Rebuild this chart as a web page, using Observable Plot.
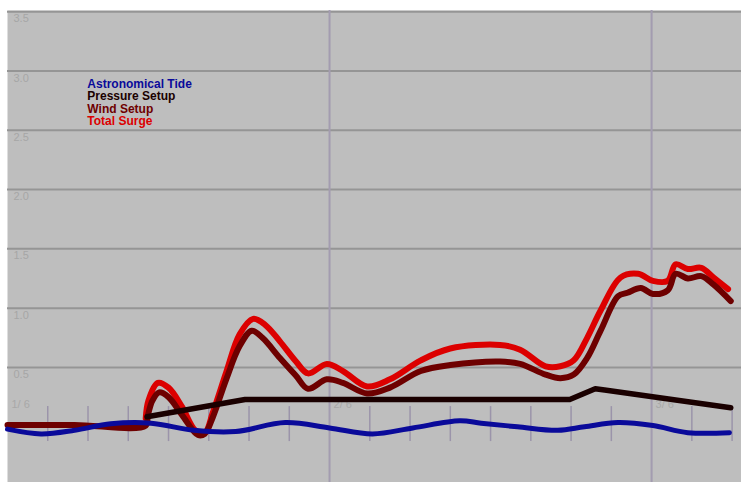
<!DOCTYPE html>
<html>
<head>
<meta charset="utf-8">
<script src="https://cdn.jsdelivr.net/npm/d3@7"></script>
<script src="https://cdn.jsdelivr.net/npm/@observablehq/plot@0.6"></script>
<style>
  html, body { margin: 0; padding: 0; background: #ffffff; }
  #chart svg { display: block; }
</style>
</head>
<body>
<div id="chart"></div>
<script>
// Hours since 1/6 00:00 and water level values (ft)
const tideHours   = [0, 2.5, 5, 7.7, 10.7, 13.9, 17, 20.7, 24, 27.2, 30.2, 33.7, 35.3, 38, 41, 43, 45.5, 48.1, 50.7, 53.8];
const tideValues  = [-0.02, -0.06, -0.03, 0.025, 0.03, -0.03, -0.04, 0.035, -0.01, -0.06, -0.01, 0.05, 0.03, 0.0, -0.03, 0.0, 0.035, 0.01, -0.05, -0.05];

const pressureHours  = [10.4, 17.7, 41.9, 43.8, 44.5, 53.9];
const pressureValues = [0.085, 0.23, 0.23, 0.32, 0.31, 0.16];

const windHours  = [0, 5, 10.3, 10.45, 10.8, 11.3, 12.0, 13.0, 14.2, 14.7, 15.3, 16.3, 17.3, 18.2, 19.0, 20.3, 21.5, 22.4, 23.8, 25.0, 26.8, 28.5, 30.8, 33.0, 36.7, 38.2, 40.1, 41.2, 42.2, 43.2, 44.2, 45.5, 46.2, 47.2, 48.1, 49.2, 49.8, 50.7, 51.7, 52.6, 53.9];
const windValues = [0.015, 0.015, 0.01, 0.09, 0.22, 0.29, 0.25, 0.10, -0.07, -0.06, 0.08, 0.40, 0.68, 0.81, 0.75, 0.58, 0.43, 0.32, 0.40, 0.37, 0.28, 0.33, 0.47, 0.52, 0.55, 0.53, 0.44, 0.41, 0.44, 0.58, 0.81, 1.10, 1.13, 1.17, 1.12, 1.15, 1.29, 1.25, 1.27, 1.20, 1.06];

const totalHours  = [10.3, 10.5, 11.2, 12.0, 13.0, 14.0, 14.7, 15.3, 16.3, 17.3, 18.3, 19.2, 20.3, 21.5, 22.4, 23.8, 25.0, 26.8, 28.5, 30.8, 33.0, 36.7, 38.2, 40.1, 41.2, 42.2, 43.2, 44.2, 45.7, 47.0, 48.1, 49.2, 49.8, 50.7, 51.7, 52.6, 53.7];
const totalValues = [0.07, 0.22, 0.37, 0.33, 0.17, -0.03, -0.05, 0.12, 0.46, 0.78, 0.91, 0.86, 0.72, 0.55, 0.45, 0.53, 0.47, 0.34, 0.40, 0.56, 0.66, 0.69, 0.65, 0.51, 0.51, 0.56, 0.75, 0.98, 1.26, 1.29, 1.23, 1.23, 1.37, 1.33, 1.34, 1.26, 1.16];

const seriesNames  = ["Astronomical Tide", "Pressure Setup", "Wind Setup", "Total Surge"];
const seriesColors = ["#0a0a9a", "#1a0000", "#6e0000", "#dc0000"];

const yTicks = [0.5, 1.0, 1.5, 2.0, 2.5, 3.0, 3.5];
const dayHours = [0, 24, 48];
const dayLabels = ["1/ 6", "2/ 6", "3/ 6"];
const tickHours = [3, 6, 9, 12, 15, 18, 21, 27, 30, 33, 36, 39, 42, 45, 51, 54];

const zip = (xs, ys) => xs.map((h, i) => ({h, v: ys[i]}));
const tide = zip(tideHours, tideValues);
const pressure = zip(pressureHours, pressureValues);
const wind = zip(windHours, windValues);
const total = zip(totalHours, totalValues);

const font = "'Liberation Sans', Arial, sans-serif";

const chart = Plot.plot({
  width: 741,
  height: 482,
  marginTop: 10,
  marginLeft: 7,
  marginRight: 0,
  marginBottom: 0,
  style: {fontFamily: font, background: "#ffffff"},
  x: {domain: [0, 54.7], axis: null},
  y: {domain: [-0.47, 3.51], axis: null},
  marks: [
    Plot.frame({fill: "#bebebe", stroke: null}),
    Plot.ruleY(yTicks, {stroke: "#959595", strokeWidth: 2}),
    Plot.ruleX(dayHours.slice(1), {stroke: "#a39cb0", strokeWidth: 2}),
    Plot.ruleX(tickHours, {y1: -0.125, y2: 0.17, stroke: "#9b94aa", strokeWidth: 1.5}),
    Plot.text(yTicks, {x: 0, y: d => d, text: d => d.toFixed(1), dx: 6, dy: 7, textAnchor: "start", fill: "#a6a6a6", fontSize: 11}),
    Plot.text(dayLabels, {x: (d, i) => dayHours[i], y: 0.185, text: d => d, dx: 4, textAnchor: "start", fill: "#a8a8a8", fontSize: 11}),
    Plot.line(total, {x: "h", y: "v", stroke: seriesColors[3], strokeWidth: 6, curve: "catmull-rom"}),
    Plot.line(wind, {x: "h", y: "v", stroke: seriesColors[2], strokeWidth: 6, curve: "catmull-rom"}),
    Plot.line(pressure, {x: "h", y: "v", stroke: seriesColors[1], strokeWidth: 5.5, curve: "linear"}),
    Plot.line(tide, {x: "h", y: "v", stroke: seriesColors[0], strokeWidth: 5, curve: "catmull-rom"}),
    Plot.text(seriesNames, {
      x: 5.95,
      y: (d, i) => 2.89 - i * 0.104,
      text: d => d,
      fill: (d, i) => seriesColors[i],
      textAnchor: "start",
      fontSize: 12,
      fontWeight: "bold",
      letterSpacing: "-0.3px"
    })
  ]
});

// Use the series colours directly as fill (identity)
document.getElementById("chart").appendChild(chart);
</script>
</body>
</html>
